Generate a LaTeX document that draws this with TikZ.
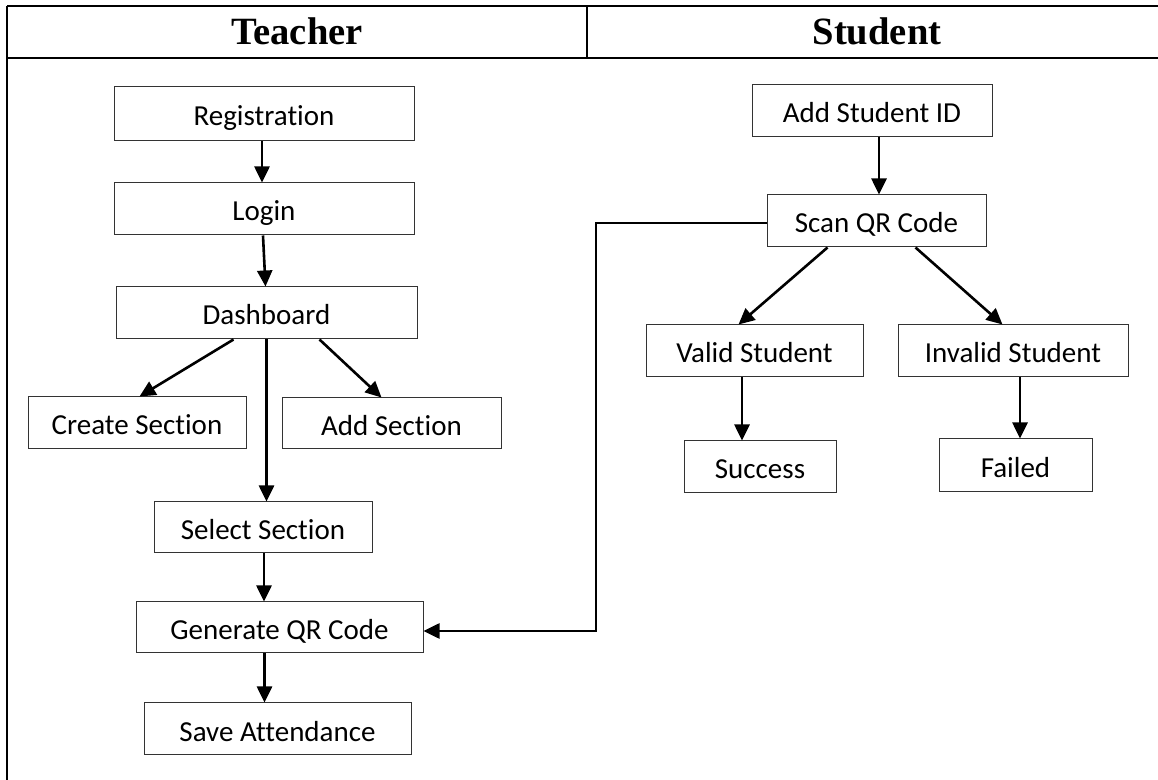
\documentclass[tikz,border=0pt]{standalone}
\usepackage{fontspec}
\setmainfont{Carlito}[Ligatures={NoCommon}]
\newfontfamily\headfont{Liberation Serif}
\usetikzlibrary{arrows.meta,calc}
\tikzset{
  box/.style={draw=black!80, line width=0.5pt, rectangle, inner sep=0pt,
    minimum height=26pt, text height=14pt, text depth=2pt,
    font=\fontsize{14.5}{17}\selectfont},
  arr/.style={line width=1.3pt, -{Triangle[length=8pt,width=7.5pt]}},
  tline/.style={line width=1.3pt},
  head/.style={font=\headfont\bfseries\fontsize{19.3}{23}\selectfont, inner sep=0pt}
}
\begin{document}
\begin{tikzpicture}[x=0.5pt,y=-0.5pt]
\useasboundingbox (0,0) rectangle (1158,780);
% table frame
\draw[tline] (7,6) -- (1158,6);
\draw[tline] (7,58) -- (1158,58);
\draw[tline] (7,6) -- (7,780);
\draw[tline] (587,6) -- (587,58);
\node[head] (hteacher) at (297,31) {Teacher};
\node[head] (hstudent) at (877,31) {Student};
% teacher nodes
\node[box, minimum width=150pt, minimum height=27pt] (reg) at (264,114) {Registration};
\node[box, minimum width=150pt] (login) at (264,209) {Login};
\node[box, minimum width=150.5pt] (dash) at (266.5,313) {Dashboard};
\node[box, minimum width=109pt] (create) at (137,423) {Create Section};
\node[box, minimum width=109.5pt, minimum height=25.5pt] (addsec) at (391.5,423.5) {Add Section};
\node[box, minimum width=109pt, minimum height=25.5pt] (select) at (263,527.5) {Select Section};
\node[box, minimum width=143.5pt, minimum height=25.5pt] (gen) at (279.5,627.5) {Generate QR Code};
\node[box, minimum width=133.5pt] (save) at (277.5,729) {Save Attendance};
% student nodes
\node[box, minimum width=120pt] (addid) at (872,111) {Add Student ID};
\node[box, minimum width=109.5pt] (scan) at (876.5,221) {Scan QR Code};
\node[box, minimum width=108.5pt] (valid) at (754.5,351) {Valid Student};
\node[box, minimum width=115pt] (invalid) at (1013,351) {Invalid Student};
\node[box, minimum width=76pt] (success) at (760,467) {Success};
\node[box, minimum width=76.5pt, minimum height=26.5pt] (failed) at (1015.5,465.5) {Failed};
% teacher arrows
\draw[arr] ([xshift=-1pt]reg.south) -- ([xshift=-1pt]login.north);
\draw[arr] ([xshift=-0.5pt]login.south) -- ([xshift=-0.5pt]dash.north);
\draw[arr] ([xshift=59pt]dash.south west) -- ([xshift=56pt]create.north west);
\draw[arr] (dash.south) -- (dash.south |- select.north);
\draw[arr] ([xshift=102pt]dash.south west) -- ([xshift=50pt]addsec.north west);
\draw[arr] ([xshift=0.5pt]select.south) -- ([xshift=0.5pt]select.south |- gen.north);
\draw[arr] ([xshift=-7.5pt]gen.south) -- ([xshift=-7.5pt]gen.south |- save.north);
% student arrows
\draw[arr] ([xshift=3.5pt]addid.south) -- ([xshift=3.5pt]addid.south |- scan.north);
\draw[arr] ([xshift=30.5pt]scan.south west) -- ([xshift=46.5pt]valid.north west);
\draw[arr] ([xshift=74.5pt]scan.south west) -- ([xshift=52.5pt]invalid.north west);
\draw[arr] ([xshift=-6.25pt]valid.south) -- ([xshift=-6.25pt]valid.south |- success.north);
\draw[arr] ([xshift=3.5pt]invalid.south) -- ([xshift=3.5pt]invalid.south |- failed.north);
% cross-lane connector
\coordinate (bend1) at (596,223);
\coordinate (bend2) at (596,631);
\draw[arr] ([yshift=-1pt]scan.west) -- (bend1) -- (bend2) -- (bend2 -| gen.east);
\end{tikzpicture}
\end{document}
